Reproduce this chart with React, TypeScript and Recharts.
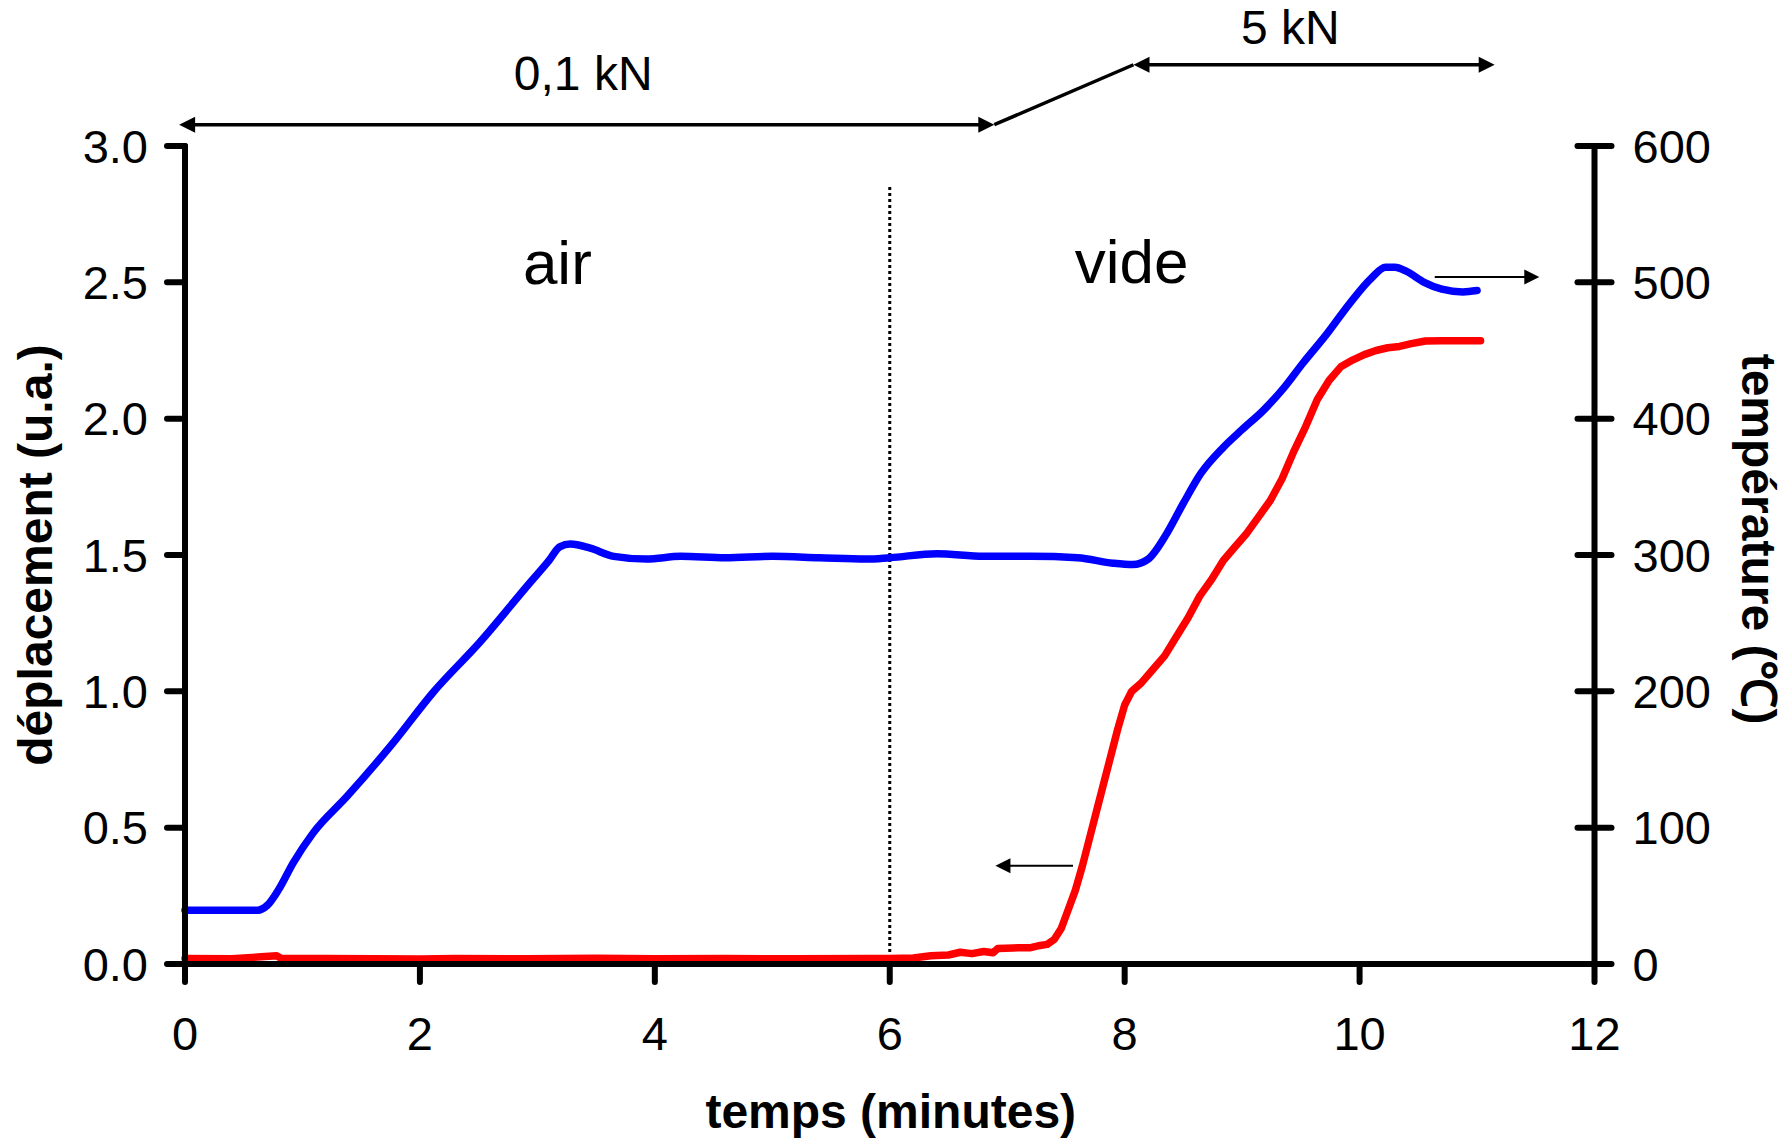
import { ComposedChart, Line, XAxis, YAxis, ReferenceLine, ReferenceDot } from 'recharts'

const FONT = '"Liberation Sans", Arial, Helvetica, sans-serif'

// déplacement (u.a.), courbe rouge, axe de gauche
const redTime = [
  0, 0.4, 0.78, 0.82, 1.2, 2, 2.3, 2.9, 3.5, 4, 4.6, 5.2, 5.8, 6.0, 6.2, 6.35, 6.5, 6.6, 6.7, 6.8,
  6.88, 6.92, 7.05, 7.2, 7.28, 7.34, 7.4, 7.46, 7.52, 7.58, 7.64, 7.7, 7.76, 7.82, 7.88, 7.94, 8.0,
  8.06, 8.14, 8.24, 8.34, 8.44, 8.54, 8.64, 8.74, 8.84, 8.94, 9.04, 9.14, 9.24, 9.34, 9.44, 9.54,
  9.64, 9.74, 9.84, 9.94, 10.04, 10.14, 10.24, 10.34, 10.44, 10.56, 10.7, 10.85, 11.03,
]
const redDisp = [
  0.02, 0.019, 0.03, 0.02, 0.02, 0.018, 0.02, 0.019, 0.021, 0.019, 0.02, 0.019, 0.02, 0.02, 0.022,
  0.03, 0.033, 0.043, 0.038, 0.046, 0.041, 0.057, 0.059, 0.06, 0.068, 0.072, 0.09, 0.13, 0.2, 0.27,
  0.36, 0.46, 0.56, 0.66, 0.76, 0.86, 0.95, 1.0, 1.03, 1.08, 1.13, 1.2, 1.27, 1.35, 1.41, 1.48, 1.53,
  1.58, 1.64, 1.7, 1.78, 1.88, 1.97, 2.07, 2.14, 2.19, 2.215, 2.235, 2.25, 2.26, 2.265, 2.275, 2.285,
  2.286, 2.286, 2.286,
]

// température (°C), courbe bleue, axe de droite
const blueTime = [
  0, 0.3, 0.62, 0.7, 0.8, 0.92, 1.09, 1.38, 1.77, 2.11, 2.51, 2.94, 3.1, 3.19, 3.28, 3.45, 3.65,
  3.93, 4.22, 4.6, 5.0, 5.4, 5.8, 6.0, 6.4, 6.8, 7.2, 7.6, 7.9, 8.07, 8.2, 8.36, 8.5, 8.65, 8.84,
  9.0, 9.18, 9.35, 9.52, 9.72, 9.92, 10.1, 10.22, 10.3, 10.4, 10.55, 10.7, 10.88, 11.0,
]
const blueTemp = [
  39.5, 39.5, 39.5, 43, 55, 74, 96, 123, 162, 199, 236, 280, 296, 306, 308, 305, 299, 297, 299, 298,
  299, 298, 297, 298, 301, 299, 299, 298, 294, 293, 297, 316, 338, 360, 379, 392, 406, 422, 441, 462,
  485, 503, 511, 511, 508, 500, 495, 493, 494,
]

const xTicks = [0, 2, 4, 6, 8, 10, 12]
const leftTicks = [0, 0.5, 1, 1.5, 2, 2.5, 3]
const rightTicks = [0, 100, 200, 300, 400, 500, 600]

const redData = redTime.map((t, i) => ({ t, v: redDisp[i] }))
const blueData = blueTime.map((t, i) => ({ t, v: blueTemp[i] }))

const RIGHT_TICK = 17
const RIGHT_MARGIN = 21

function RightTick(props: any) {
  const { x, y, payload } = props
  const ax = x - RIGHT_TICK - RIGHT_MARGIN
  return (
    <g>
      <line x1={ax - RIGHT_TICK} x2={ax + RIGHT_TICK} y1={y} y2={y} stroke="#000" strokeWidth={6} strokeLinecap="round" />
      <text x={x} y={y} dy="0.355em" textAnchor="start" fontSize={47} fontFamily={FONT} fill="#000">
        {payload.value}
      </text>
    </g>
  )
}

// line with arrow heads drawn by ReferenceLine
function Arrow(props: any) {
  const { x1, y1, x2, y2, heads, width = 3.5, size = 16 } = props
  const dx = x2 - x1
  const dy = y2 - y1
  const len = Math.sqrt(dx * dx + dy * dy) || 1
  const ux = dx / len
  const uy = dy / len
  const head = (px: number, py: number, sx: number, sy: number) => {
    const bx = px - sx * size
    const by = py - sy * size
    const hw = size * 0.5
    return `${px},${py} ${bx - sy * hw},${by + sx * hw} ${bx + sy * hw},${by - sx * hw}`
  }
  const hasStart = heads === 'start' || heads === 'both'
  const hasEnd = heads === 'end' || heads === 'both'
  const sx = hasStart ? x1 + ux * size * 0.8 : x1
  const sy = hasStart ? y1 + uy * size * 0.8 : y1
  const ex = hasEnd ? x2 - ux * size * 0.8 : x2
  const ey = hasEnd ? y2 - uy * size * 0.8 : y2
  return (
    <g>
      <line x1={sx} y1={sy} x2={ex} y2={ey} stroke="#000" strokeWidth={width} />
      {hasStart && <polygon points={head(x1, y1, -ux, -uy)} fill="#000" />}
      {hasEnd && <polygon points={head(x2, y2, ux, uy)} fill="#000" />}
    </g>
  )
}

function TextMark(text: string, size: number) {
  return (p: any) => (
    <text x={p.cx} y={p.cy} textAnchor="middle" fontSize={size} fontFamily={FONT} fill="#000">
      {text}
    </text>
  )
}

export default function App() {
  return (
    <div style={{ position: 'absolute', left: 0, top: 0, background: '#fff' }}>
      <ComposedChart width={1791} height={1140} margin={{ top: 146, right: 0, bottom: 0, left: 0 }}>
        <XAxis
          type="number"
          dataKey="t"
          domain={[0, 12]}
          ticks={xTicks}
          height={176}
          tickSize={18}
          tickMargin={35}
          axisLine={{ stroke: '#000', strokeWidth: 6, strokeLinecap: 'round' }}
          tickLine={{ stroke: '#000', strokeWidth: 6, strokeLinecap: 'round' }}
          tick={{ fontSize: 47, fontFamily: FONT, fill: '#000' }}
          label={{
            content: ({ viewBox }: any) => (
              <text
                x={viewBox.x + viewBox.width / 2 + 1}
                y={viewBox.y + 164}
                textAnchor="middle"
                fontSize={48}
                fontWeight="bold"
                fontFamily={FONT}
                fill="#000"
              >
                temps (minutes)
              </text>
            ),
          }}
        />
        <YAxis
          yAxisId="left"
          domain={[0, 3]}
          ticks={leftTicks}
          width={185}
          tickSize={18}
          tickMargin={19}
          tickFormatter={(v: number) => v.toFixed(1)}
          axisLine={{ stroke: '#000', strokeWidth: 6, strokeLinecap: 'round' }}
          tickLine={{ stroke: '#000', strokeWidth: 6, strokeLinecap: 'round' }}
          tick={{ fontSize: 47, fontFamily: FONT, fill: '#000' }}
          label={{
            content: ({ viewBox }: any) => (
              <text
                transform={`translate(${viewBox.x + 52}, ${viewBox.y + viewBox.height / 2}) rotate(-90)`}
                textAnchor="middle"
                fontSize={48}
                fontWeight="bold"
                fontFamily={FONT}
                fill="#000"
              >
                déplacement (u.a.)
              </text>
            ),
          }}
        />
        <YAxis
          yAxisId="right"
          orientation="right"
          domain={[0, 600]}
          ticks={rightTicks}
          width={196.5}
          tickSize={RIGHT_TICK}
          tickMargin={RIGHT_MARGIN}
          axisLine={{ stroke: '#000', strokeWidth: 6, strokeLinecap: 'round' }}
          tickLine={false}
          tick={<RightTick />}
          label={{
            content: ({ viewBox }: any) => (
              <text
                transform={`translate(${viewBox.x + 147}, ${viewBox.y + viewBox.height / 2 - 16}) rotate(90)`}
                textAnchor="middle"
                fontSize={48}
                fontWeight="bold"
                fontFamily={FONT}
                fill="#000"
              >
                température (℃)
              </text>
            ),
          }}
        />

        <ReferenceLine
          yAxisId="left"
          segment={[{ x: 6, y: 0 }, { x: 6, y: 2.86 }]}
          stroke="#000"
          strokeWidth={3}
          strokeDasharray="3 3"
          ifOverflow="visible"
        />

        <Line
          yAxisId="left"
          data={redData}
          dataKey="v"
          type="linear"
          stroke="#ff0000"
          strokeWidth={7.5}
          strokeLinejoin="round"
          strokeLinecap="round"
          dot={false}
          isAnimationActive={false}
        />
        <Line
          yAxisId="right"
          data={blueData}
          dataKey="v"
          type="monotone"
          stroke="#0000ff"
          strokeWidth={7.5}
          strokeLinejoin="round"
          strokeLinecap="round"
          dot={false}
          isAnimationActive={false}
        />

        {/* force annotations */}
        <ReferenceLine
          yAxisId="left"
          segment={[{ x: -0.05, y: 3.078 }, { x: 6.89, y: 3.078 }]}
          ifOverflow="visible"
          shape={(p: any) => <Arrow {...p} heads="both" />}
        />
        <ReferenceLine
          yAxisId="left"
          segment={[{ x: 6.89, y: 3.078 }, { x: 8.075, y: 3.298 }]}
          ifOverflow="visible"
          shape={(p: any) => <Arrow {...p} heads="none" />}
        />
        <ReferenceLine
          yAxisId="left"
          segment={[{ x: 8.075, y: 3.298 }, { x: 11.15, y: 3.298 }]}
          ifOverflow="visible"
          shape={(p: any) => <Arrow {...p} heads="both" />}
        />
        <ReferenceDot yAxisId="left" x={3.39} y={3.206} ifOverflow="visible" shape={TextMark('0,1 kN', 48)} />
        <ReferenceDot yAxisId="left" x={9.41} y={3.375} ifOverflow="visible" shape={TextMark('5 kN', 48)} />

        {/* air / vide */}
        <ReferenceDot yAxisId="left" x={3.17} y={2.494} ifOverflow="visible" shape={TextMark('air', 62)} />
        <ReferenceDot yAxisId="left" x={8.06} y={2.498} ifOverflow="visible" shape={TextMark('vide', 62)} />

        {/* which curve goes with which axis */}
        <ReferenceLine
          yAxisId="left"
          segment={[{ x: 10.64, y: 2.52 }, { x: 11.53, y: 2.52 }]}
          ifOverflow="visible"
          shape={(p: any) => <Arrow {...p} heads="end" width={2} size={15} />}
        />
        <ReferenceLine
          yAxisId="left"
          segment={[{ x: 6.9, y: 0.36 }, { x: 7.56, y: 0.36 }]}
          ifOverflow="visible"
          shape={(p: any) => <Arrow {...p} heads="start" width={2} size={15} />}
        />
      </ComposedChart>
    </div>
  )
}
